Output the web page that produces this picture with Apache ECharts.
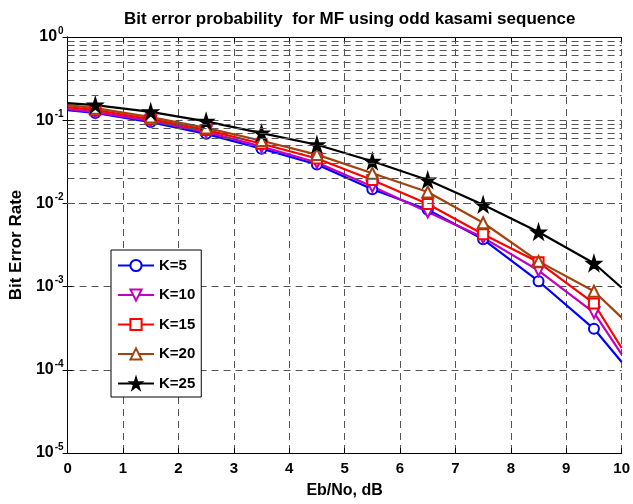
<!DOCTYPE html>
<html>
<head>
<meta charset="utf-8">
<script src="https://cdn.jsdelivr.net/npm/echarts@6/dist/echarts.min.js"></script>
<style>html,body{margin:0;padding:0;background:#fff;}#c{width:633px;height:504px;}</style>
</head>
<body>
<div id="c"></div>
<script>
var ebno = [0, 0.5, 1.5, 2.5, 3.5, 4.5, 5.5, 6.5, 7.5, 8.5, 9.5, 10];
var k5  = [0.132, 0.122, 0.095, 0.0686, 0.0455, 0.0294, 0.0148, 0.0084, 0.0037, 0.00116, 0.000311, 0.000124];
var k10 = [0.136, 0.125, 0.098, 0.0724, 0.0481, 0.031, 0.016, 0.0079, 0.00388, 0.00156, 0.000486, 0.000153];
var k15 = [0.1435, 0.132, 0.103, 0.0765, 0.0521, 0.0346, 0.0191, 0.00984, 0.00425, 0.00196, 0.000627, 0.000183];
var k20 = [0.152, 0.1396, 0.109, 0.0808, 0.0566, 0.0386, 0.023, 0.0137, 0.00585, 0.00201, 0.00088, 0.000424];
var k25 = [0.160, 0.152, 0.126, 0.097, 0.070, 0.0507, 0.0321, 0.0191, 0.00966, 0.00454, 0.00191, 0.00097];
var seriesNames = ['K=5', 'K=10', 'K=15', 'K=20', 'K=25'];
var xTicks = [0,1,2,3,4,5,6,7,8,9,10];

var FONT = '"Liberation Sans Narrow", "Liberation Sans", Arial, sans-serif';
var STAR = 'path://M50,0 L61,35 98,35 68,57 79,91 50,70 21,91 32,57 2,35 39,35 Z';

function pts(vals) {
  return ebno.map(function (x, i) {
    var item = { value: [x, vals[i]] };
    if (x === 0 || x === 10) item.symbol = 'none';
    return item;
  });
}

var minorVals = [];
for (var n = -5; n <= -1; n++) {
  for (var k = 2; k <= 9; k++) minorVals.push({ yAxis: k * Math.pow(10, n) });
}

var defs = [
  { name: seriesNames[0], data: k5,  color: '#0000ff', symbol: 'emptyCircle', size: 10, rot: 0 },
  { name: seriesNames[1], data: k10, color: '#bf00bf', symbol: 'emptyTriangle', size: 11, rot: 180 },
  { name: seriesNames[2], data: k15, color: '#ff0000', symbol: 'emptyRect', size: 10, rot: 0 },
  { name: seriesNames[3], data: k20, color: '#a3420c', symbol: 'emptyTriangle', size: 11, rot: 0 },
  { name: seriesNames[4], data: k25, color: '#000000', symbol: STAR, size: 14, rot: 0 }
];

var series = [{
  type: 'line', name: 'grid', data: [], silent: true, z: 1,
  markLine: {
    silent: true, symbol: 'none', animation: false,
    label: { show: false },
    lineStyle: { color: '#555', type: [7, 5], width: 1 },
    data: minorVals
  }
}];
defs.forEach(function (d) {
  series.push({
    type: 'line', name: d.name, data: pts(d.data), z: 3,
    symbol: d.symbol, symbolSize: d.size, symbolRotate: d.rot,
    showSymbol: true, animation: false,
    lineStyle: { color: d.color, width: 2.2 },
    itemStyle: { color: d.color, borderColor: d.color, borderWidth: 1.8 }
  });
});

var chart = echarts.init(document.getElementById('c'), null, { renderer: 'canvas' });
chart.setOption({
  backgroundColor: '#fff',
  animation: false,
  title: {
    text: 'Bit error probability  for MF using odd kasami sequence',
    left: 119, top: 6,
    textStyle: { fontFamily: FONT, fontWeight: 'bold', fontSize: 17, color: '#000' }
  },
  grid: { left: 61, right: 10, top: 37, bottom: 46 },
  legend: {
    data: seriesNames,
    orient: 'vertical', left: 111, top: 250,
    backgroundColor: '#fff', borderColor: '#000', borderWidth: 1,
    padding: [8, 6, 6, 6],
    itemWidth: 36, itemHeight: 14, itemGap: 14.5,
    textStyle: { fontFamily: FONT, fontWeight: 'bold', fontSize: 15, color: '#000' }
  },
  xAxis: [{
    type: 'value', min: 0, max: 10, interval: 1,
    name: 'Eb/No, dB', nameLocation: 'middle', nameGap: 30,
    nameTextStyle: { fontFamily: FONT, fontWeight: 'bold', fontSize: 16, color: '#000' },
    axisLine: { lineStyle: { color: '#000', width: 1 } },
    axisTick: { inside: true, length: 5, lineStyle: { color: '#000' } },
    axisLabel: { fontFamily: FONT, fontWeight: 'bold', fontSize: 15, color: '#000', margin: 8,
      formatter: function (v) { return xTicks.indexOf(v) >= 0 ? String(v) : ''; } },
    splitLine: { show: true, lineStyle: { color: '#555', type: [7, 5], width: 1 } }
  }, {
    type: 'value', min: 0, max: 10, interval: 1, position: 'top',
    axisLine: { show: true, lineStyle: { color: '#000', width: 1 } },
    axisTick: { inside: true, length: 5, lineStyle: { color: '#000' } },
    axisLabel: { show: false }, splitLine: { show: false }
  }],
  yAxis: [{
    type: 'log', logBase: 10, min: 1e-5, max: 1,
    name: 'Bit Error Rate', nameLocation: 'middle', nameGap: 38,
    nameTextStyle: { fontFamily: FONT, fontWeight: 'bold', fontSize: 17, color: '#000' },
    axisLine: { show: true, lineStyle: { color: '#000', width: 1 } },
    axisTick: { inside: true, length: 5, lineStyle: { color: '#000' } },
    axisLabel: {
      margin: 4,
      formatter: function (v) {
        var e = Math.round(Math.log10(v));
        return '{b|10}{s|' + e + '}';
      },
      rich: {
        b: { fontFamily: FONT, fontWeight: 'bold', fontSize: 16, color: '#000' },
        s: { fontFamily: FONT, fontWeight: 'bold', fontSize: 10, color: '#000', verticalAlign: 'top', padding: [0, 0, 12, 1] }
      }
    },
    splitLine: { show: true, lineStyle: { color: '#555', type: [7, 5], width: 1 } }
  }, {
    type: 'log', logBase: 10, min: 1e-5, max: 1, position: 'right',
    axisLine: { show: true, lineStyle: { color: '#000', width: 1 } },
    axisTick: { inside: true, length: 5, lineStyle: { color: '#000' } },
    axisLabel: { show: false }, splitLine: { show: false }
  }],
  series: series
});
</script>
</body>
</html>
